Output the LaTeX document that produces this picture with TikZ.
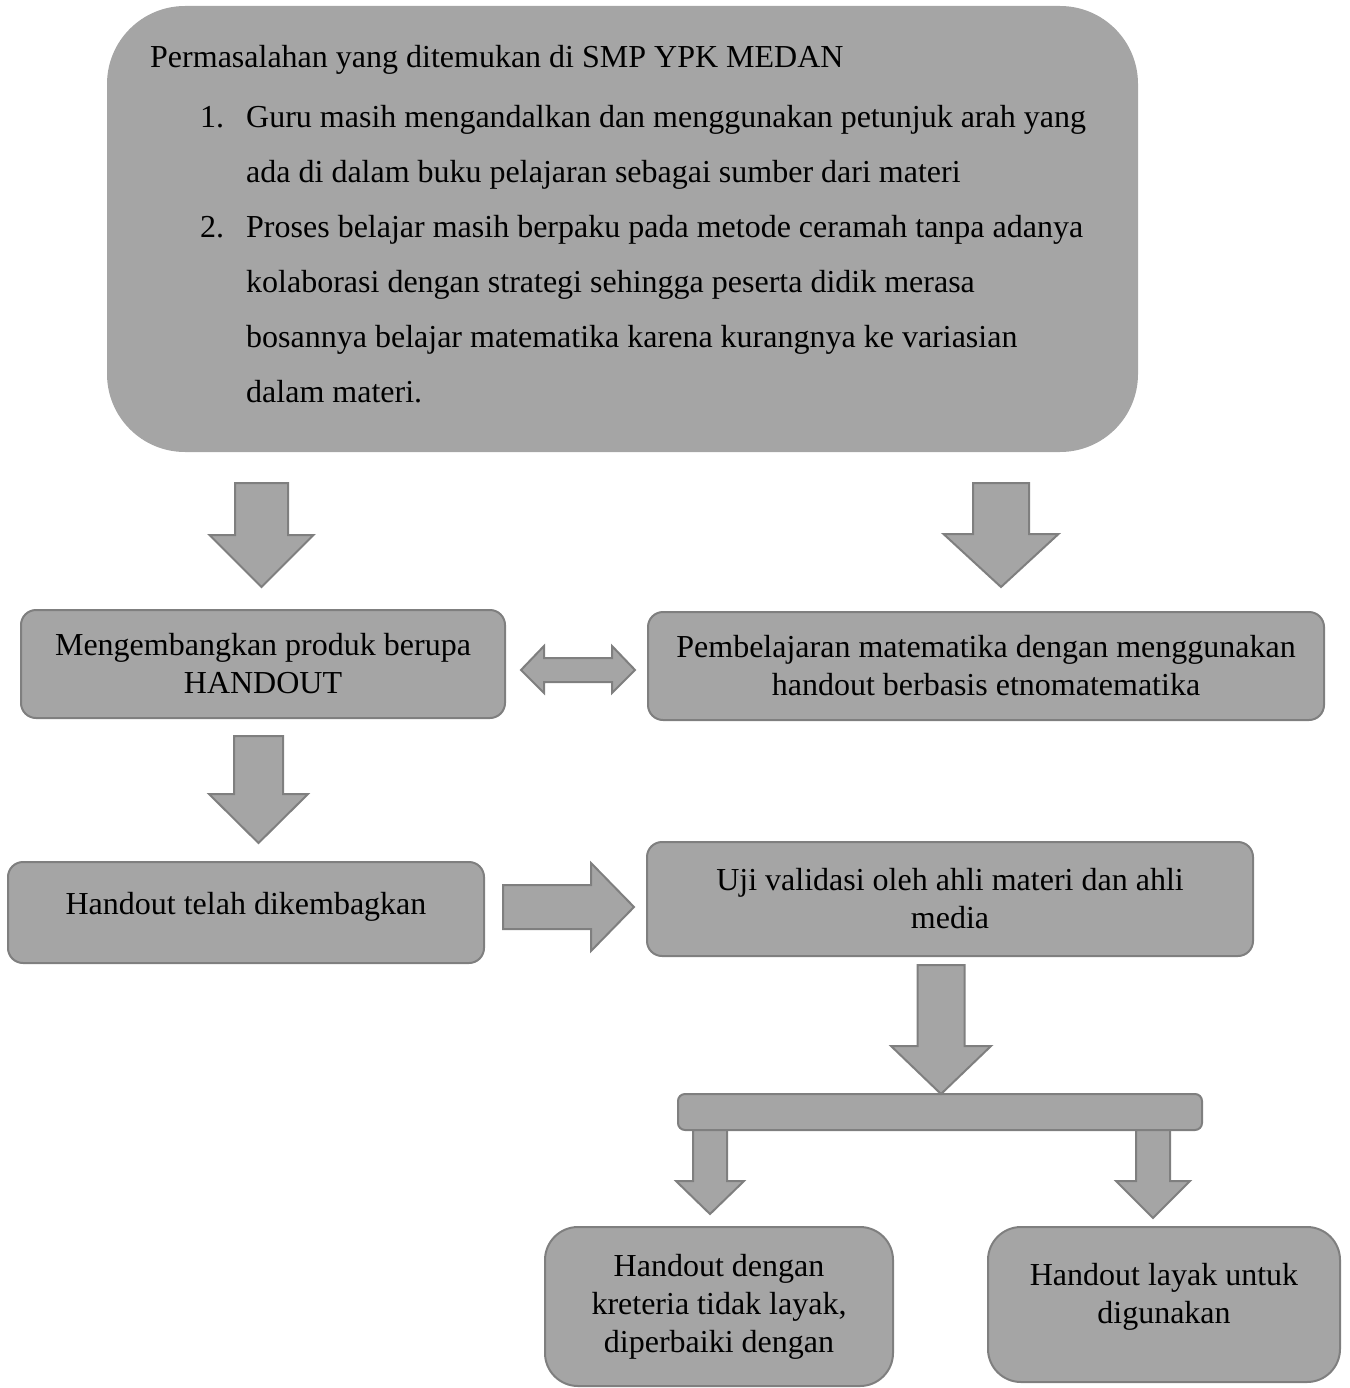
\documentclass[tikz,border=0pt]{standalone}
\usepackage{fontspec}
\setmainfont{Liberation Serif}
\definecolor{boxgray}{HTML}{A5A5A5}
\definecolor{linegray}{HTML}{7F7F7F}
\tikzset{
  bigbox/.style={fill=boxgray, rounded corners=78pt, inner sep=0pt},
  flowbox/.style={draw=linegray, fill=boxgray, line width=2pt, rounded corners=15pt,
    align=center, inner sep=0pt, font=\fontsize{32}{38}\selectfont},
  toptext/.style={anchor=base west, inner sep=0pt, font=\fontsize{32}{38}\selectfont},
  blockarrow/.style={draw=linegray, fill=boxgray, line width=2pt, line join=miter},
}
\newcommand\blockdown[6]{%
  \draw[blockarrow] ({#1-#2},#4) -- ({#1+#2},#4) -- ({#1+#2},#5) -- ({#1+#3},#5)
    -- (#1,#6) -- ({#1-#3},#5) -- ({#1-#2},#5) -- cycle;}
\begin{document}
\begin{tikzpicture}[x=1pt,y=-1pt]
\useasboundingbox (0,0) rectangle (1349,1388);

% top problem box
\node[bigbox, minimum width=1031pt, minimum height=446pt] (top) at (622.5,229) {};
\node[toptext] (t0) at (150,68) {Permasalahan yang ditemukan di SMP YPK MEDAN};
\node[toptext] (n1) at (200,128) {1.};
\node[toptext] (l1a) at (246,128) {Guru masih mengandalkan dan menggunakan petunjuk arah yang};
\node[toptext] (l1b) at (246,182.8) {ada di dalam buku pelajaran sebagai sumber dari materi};
\node[toptext] (n2) at (200,237.6) {2.};
\node[toptext] (l2a) at (246,237.6) {Proses belajar masih berpaku pada metode ceramah tanpa adanya};
\node[toptext] (l2b) at (246,292.4) {kolaborasi dengan strategi sehingga peserta didik merasa};
\node[toptext] (l2c) at (246,347.2) {bosannya belajar matematika karena kurangnya ke variasian};
\node[toptext] (l2d) at (246,402) {dalam materi.};

% boxes
\node[flowbox, minimum width=484pt, minimum height=108pt] (A) at (263,664)
  {Mengembangkan produk berupa\\HANDOUT};
\node[flowbox, minimum width=676pt, minimum height=108pt] (B) at (986,666)
  {Pembelajaran matematika dengan menggunakan\\handout berbasis etnomatematika};
\node[flowbox, minimum width=476pt, minimum height=101pt, text depth=18pt] (C) at (246,912.5)
  {Handout telah dikembagkan};
\node[flowbox, minimum width=606pt, minimum height=114pt] (D) at (950,899)
  {Uji validasi oleh ahli materi dan ahli\\media};
\node[flowbox, minimum width=524pt, minimum height=36pt, rounded corners=7pt] (bar) at (940,1112) {};
\node[flowbox, minimum width=348pt, minimum height=159pt, rounded corners=33pt] (E) at (719,1306.5)
  {Handout dengan\\kreteria tidak layak,\\diperbaiki dengan};
\node[flowbox, minimum width=352pt, minimum height=155pt, rounded corners=33pt, text depth=22pt] (F) at (1164,1304.5)
  {Handout layak untuk\\digunakan};

% down block arrows
\blockdown{261.5}{26.5}{52}{483}{535}{587}
\blockdown{1001}{28}{57.5}{483}{534}{587}
\blockdown{258.5}{24.5}{49.5}{736}{794}{843}
\blockdown{941}{23.5}{50}{965}{1046}{1094}
\blockdown{710}{17}{34}{1130}{1181}{1214}
\blockdown{1153}{17}{37}{1130}{1181}{1218}

% right block arrow C -> D
\draw[blockarrow] (503,885) -- (591,885) -- (591,863) -- (634,907) -- (591,951)
  -- (591,929) -- (503,929) -- cycle;

% double block arrow A <-> B
\draw[blockarrow] (521,670) -- (544,646) -- (544,658) -- (612,658) -- (612,646)
  -- (635,670) -- (612,693) -- (612,682) -- (544,682) -- (544,693) -- cycle;
\end{tikzpicture}
\end{document}
